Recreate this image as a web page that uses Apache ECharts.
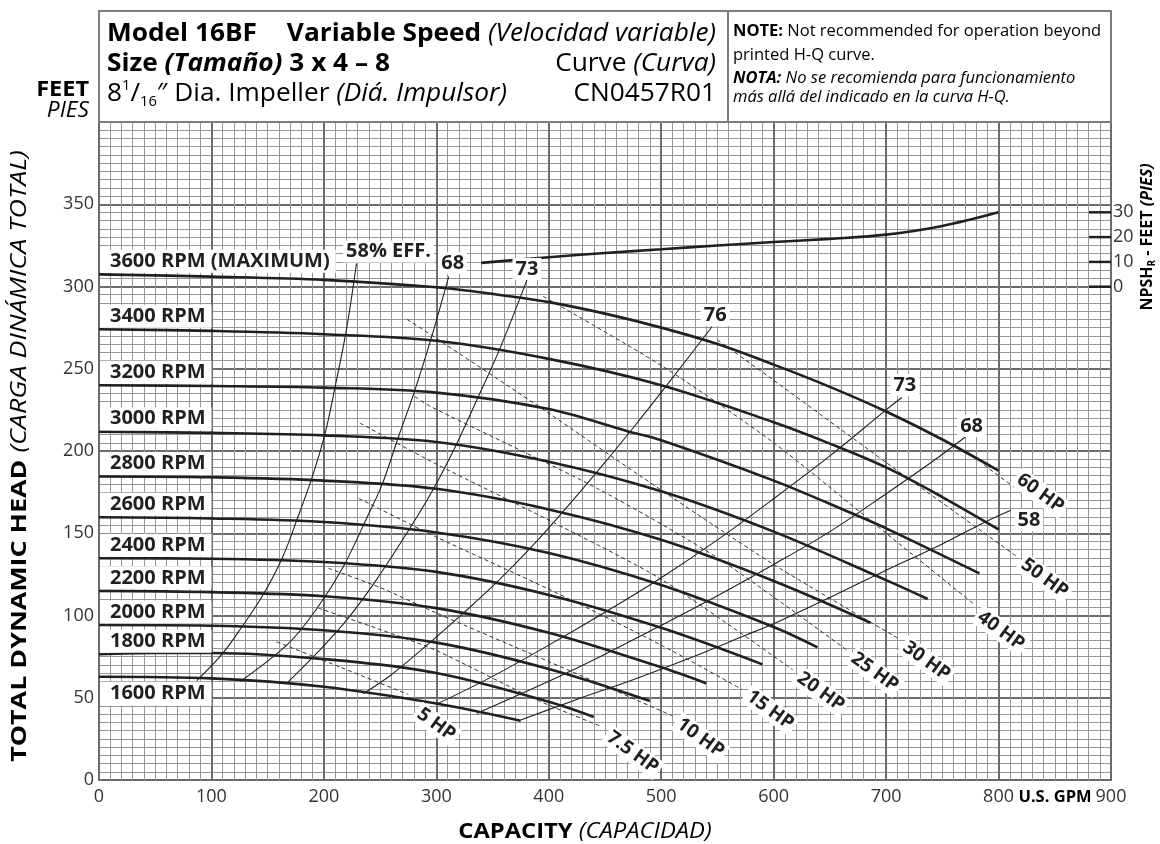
<!DOCTYPE html>
<html>
<head>
<meta charset="utf-8">
<script src="https://cdn.jsdelivr.net/npm/echarts@6/dist/echarts.min.js"></script>
<style>
  html, body { margin: 0; padding: 0; background: #fff; }
  #chart { width: 1160px; height: 844px; }
</style>
</head>
<body>
<div id="chart"></div>
<script>
// Head-capacity curves: [capacity US GPM, total dynamic head ft]
const rpm3600 = [[0,307.4],[100,306],[200,304],[300,299.5],[350,295.5],[400,290.5],[450,283.5],[500,275],[550,265],[600,252.5],[650,239],[700,224],[750,207],[800,188]];
const rpm3400 = [[0,274],[100,273],[200,271],[300,267],[400,256],[500,240],[600,217.5],[650,204.5],[700,190],[750,172],[800,152.3]];
const rpm3200 = [[0,240],[100,239.5],[200,238.5],[300,235.5],[400,225.5],[470,212],[500,206.5],[600,182],[670,162],[700,153],[783,125.6]];
const rpm3000 = [[0,211.7],[100,211],[200,209.5],[300,205.5],[400,193.5],[500,175.5],[600,151],[700,121.5],[737,110]];
const rpm2800 = [[0,184.5],[100,184],[200,182],[300,177],[400,164.5],[500,146],[600,121],[686,95.6]];
const rpm2600 = [[0,159.7],[100,159],[200,156.8],[300,150.5],[400,138],[500,118.5],[600,93],[639,80.6]];
const rpm2400 = [[0,134.8],[100,134.5],[200,132.5],[300,126.5],[400,112.5],[500,92.5],[590,70.3]];
const rpm2200 = [[0,115],[100,114.2],[200,111.7],[300,104.5],[400,89.5],[500,68.5],[540,58.8]];
const rpm2000 = [[0,94.2],[100,93.8],[200,91],[300,83.5],[400,67.5],[490,48]];
const rpm1800 = [[0,76.4],[50,77.2],[100,77.2],[200,73.5],[300,65],[400,47.5],[440,38.3]];
const rpm1600 = [[0,62.8],[100,61.8],[200,56.7],[300,46.5],[375,36]];

const speedNames = ['3600 RPM (MAXIMUM)','3400 RPM','3200 RPM','3000 RPM','2800 RPM','2600 RPM','2400 RPM','2200 RPM','2000 RPM','1800 RPM','1600 RPM'];
const speedCurves = [rpm3600, rpm3400, rpm3200, rpm3000, rpm2800, rpm2600, rpm2400, rpm2200, rpm2000, rpm1800, rpm1600];

// Iso-efficiency curves (left branch rises toward shut-off, right branch toward run-out)
const eff58a = [[87,60.4],[110,77],[127,93],[145,111.5],[163,135],[177,160],[190,185],[201,210.5],[210,239],[220,273.6],[229,314]];
const eff68a = [[125.5,59.8],[168.5,83],[195,105.5],[217.5,130],[240,162],[252,180],[266.5,209],[280,235],[295,267.5],[311,306]];
const eff73a = [[167,58.8],[195,78],[220,97],[245,120],[270,146],[295,174],[315,200],[336,231],[357,263],[380.6,304]];
const eff76  = [[235,52.5],[260,64],[295,84],[325,102],[355,121],[385,142],[415,165],[445,189],[475,214],[505,240],[545.3,275.7]];
const eff73b = [[300,46],[350,63],[400,82],[450,102],[500,123],[550,146],[600,171],[650,197],[700,225],[714,232.5]];
const eff68b = [[336,40.5],[400,60],[450,76.5],[500,94],[550,112],[600,131],[650,151],[700,174],[740,193],[770.7,208.7]];
const eff58b = [[375,36.5],[425,49],[475,61],[525,74],[575,88],[600,95],[650,111],[700,127.5],[750,143.5],[790,157.5],[811,164]];

const effNames = ['58% EFF.','68','73','76','73','68','58'];
const effCurves = [eff58a, eff68a, eff73a, eff76, eff73b, eff68b, eff58b];

// Brake horsepower lines
const hp5   = [[158,84],[215,68.5],[275,52]];
const hp7_5 = [[195,104.5],[250,91.5],[299,79],[390,48.5],[447,32.5]];
const hp10  = [[204,128.7],[250,117],[300,101.5],[400,72],[510,39]];
const hp15  = [[231,171.2],[299,148],[400,116],[500,82],[572,55]];
const hp20  = [[232,217],[299,192.4],[400,158],[500,122],[617,67]];
const hp25  = [[281,233],[295,227],[443,177.3],[550,135],[665,79]];
const hp30  = [[274,280],[300,268.5],[400,223],[481,185],[600,131],[711,86]];
const hp40  = [[395,294],[500,252],[600,205],[700,150],[778,107]];
const hp50  = [[550,267.5],[597,244.5],[700,193],[816,136]];
const hp60  = [[787,191.5],[814,178]];

const hpNames = ['5 HP','7.5 HP','10 HP','15 HP','20 HP','25 HP','30 HP','40 HP','50 HP','60 HP'];
const hpCurves = [hp5, hp7_5, hp10, hp15, hp20, hp25, hp30, hp40, hp50, hp60];

// Required NPSH, ft, and its scale marks
const npshR = [[340,9.6],[400,11.9],[450,13.6],[500,15.1],[550,16.6],[600,18],[650,19.3],[700,21],[750,24.5],[800,30]];
const npshTicks = [0, 10, 20, 30];

const FONT = '"Open Sans", "DejaVu Sans", sans-serif';
const INK = '#231f20';
const MINOR = '#969696';
const MAJOR = '#6c6c6c';

const chart = echarts.init(document.getElementById('chart'), null, { renderer: 'canvas' });

function curve(data, lineStyle, z, smooth) {
  return {
    type: 'line', data, xAxisIndex: 0, yAxisIndex: 0,
    symbol: 'none', showSymbol: false, smooth: smooth,
    lineStyle, z, silent: true, animation: false
  };
}

const series = [
  ...hpCurves.map(d => curve(d, { color: '#333', width: 1, type: [4, 3] }, 3, 0.25)),
  ...effCurves.map(d => curve(d, { color: INK, width: 1.1 }, 4, 0.35)),
  ...speedCurves.map(d => curve(d, { color: INK, width: 2.6 }, 5, 0.35)),
  {
    type: 'line', data: npshR, xAxisIndex: 1, yAxisIndex: 1,
    symbol: 'none', showSymbol: false, smooth: 0.35,
    lineStyle: { color: INK, width: 2.6 }, z: 5, silent: true, animation: false
  }
];

chart.setOption({
  animation: false,
  backgroundColor: '#fff',
  textStyle: { fontFamily: FONT },
  grid: [
    { left: 99, top: 122, width: 1012, height: 658, show: true, borderColor: MAJOR, borderWidth: 2, backgroundColor: '#fff' },
    { left: 99, top: 212.3, width: 1012, height: 74.4 }
  ],
  xAxis: [
    {
      gridIndex: 0, type: 'value', min: 0, max: 900, interval: 100,
      axisLine: { show: false }, axisTick: { show: false },
      axisLabel: { color: '#333', fontSize: 18, margin: 8, fontFamily: FONT },
      splitLine: { show: true, lineStyle: { color: MAJOR, width: 2 } },
      minorTick: { show: false, splitNumber: 10 },
      minorSplitLine: { show: true, lineStyle: { color: MINOR, width: 1 } }
    },
    { gridIndex: 1, type: 'value', min: 0, max: 900, show: false }
  ],
  yAxis: [
    {
      gridIndex: 0, type: 'value', min: 0, max: 400, interval: 50,
      axisLine: { show: false }, axisTick: { show: false },
      axisLabel: { color: '#333', fontSize: 18, margin: 5, showMaxLabel: false, fontFamily: FONT },
      splitLine: { show: true, lineStyle: { color: MAJOR, width: 2 } },
      minorTick: { show: false, splitNumber: 10 },
      minorSplitLine: { show: true, lineStyle: { color: MINOR, width: 1 } }
    },
    {
      gridIndex: 1, type: 'value', position: 'right', min: 0, max: 30, interval: 10,
      axisLine: { show: false }, axisTick: { show: false },
      axisLabel: { color: '#333', fontSize: 18, margin: 2, fontFamily: FONT },
      splitLine: { show: false }
    }
  ],
  series
});

const toPx = pt => chart.convertToPixel({ xAxisIndex: 0, yAxisIndex: 0 }, pt);

function tag(text, x, y, opt) {
  opt = opt || {};
  return {
    type: 'text', x, y, rotation: opt.rot || 0, z: 60, silent: true,
    style: {
      text, fill: INK,
      font: `bold ${opt.size || 20}px ${FONT}`,
      align: opt.align || 'center', verticalAlign: 'middle',
      backgroundColor: '#fff', padding: opt.pad || [1, 3]
    }
  };
}

const graphics = [];

// Speed labels sit on the shut-off end of each curve
speedCurves.forEach((d, i) => {
  const p = toPx(d[0]);
  const below = i === speedCurves.length - 1;
  graphics.push(tag(speedNames[i], p[0] + 1, p[1] + (below ? 17 : -13),
    { align: 'left', pad: below ? [1, 6, 3, 10] : [3, 6, 0, 10] }));
});

// Efficiency labels at the outer end of each iso-efficiency curve
const effOffsets = [[32, -12], [4, -13.5], [0, -11], [3, -11.5], [3, -12.5], [6, -10.7], [18, 10]];
effCurves.forEach((d, i) => {
  const p = toPx(d[d.length - 1]);
  graphics.push(tag(effNames[i], p[0] + effOffsets[i][0], p[1] + effOffsets[i][1], { pad: [1, 3] }));
});

// Horsepower labels follow the run-out end of each dashed line
const hpOffsets = [[28, 30], [31, 26], [28, 22], [28, 20.5], [28, 22], [28, 22], [28, 22.5], [27, 26.7], [28, 22], [26, 6]];
const tilt = -36 * Math.PI / 180;
hpCurves.forEach((d, i) => {
  const p = toPx(d[d.length - 1]);
  graphics.push(tag(hpNames[i], p[0] + hpOffsets[i][0], p[1] + hpOffsets[i][1], { rot: tilt, size: 19, pad: [1, 3] }));
});

// NPSH tick marks run inward from the right edge of the plot
const rightEdge = chart.convertToPixel({ xAxisIndex: 0 }, 900);
npshTicks.forEach(v => {
  const y = chart.convertToPixel({ yAxisIndex: 1 }, v);
  graphics.push({ type: 'line', z: 55, silent: true,
    shape: { x1: rightEdge - 22, y1: y, x2: rightEdge, y2: y },
    style: { stroke: INK, lineWidth: 2.5 } });
});

// Title block
const TS = 25;
const titleRich = {
  b:  { fontFamily: FONT, fontSize: TS, fontWeight: 'bold', color: INK, lineHeight: 30 },
  bi: { fontFamily: FONT, fontSize: TS, fontWeight: 'bold', fontStyle: 'italic', color: INK, lineHeight: 30 },
  r:  { fontFamily: FONT, fontSize: TS, color: INK, lineHeight: 30 },
  i:  { fontFamily: FONT, fontSize: TS, fontStyle: 'italic', color: INK, lineHeight: 30 },
  sup: { fontFamily: FONT, fontSize: 14, color: INK, lineHeight: 16, verticalAlign: 'top' },
  sub: { fontFamily: FONT, fontSize: 14, color: INK, lineHeight: 16, verticalAlign: 'bottom' }
};
const NS = 16.5;
const noteRich = {
  b:  { fontFamily: FONT, fontSize: NS, fontWeight: 'bold', color: INK },
  bi: { fontFamily: FONT, fontSize: NS, fontWeight: 'bold', fontStyle: 'italic', color: INK },
  r:  { fontFamily: FONT, fontSize: NS, color: INK },
  i:  { fontFamily: FONT, fontSize: NS, fontStyle: 'italic', color: INK }
};
function rich(text, x, y, align, styles, opt) {
  opt = opt || {};
  return {
    type: 'text', x, y, rotation: opt.rot || 0, scaleX: opt.sx || 1, z: 70, silent: true,
    style: { text, rich: styles, align, verticalAlign: 'middle' }
  };
}

graphics.push(
  { type: 'rect', z: 65, silent: true, shape: { x: 99, y: 11, width: 1012, height: 111 },
    style: { fill: '#fff', stroke: '#7d7d7d', lineWidth: 2 } },
  { type: 'line', z: 66, silent: true, shape: { x1: 728, y1: 11, x2: 728, y2: 122 },
    style: { stroke: '#7d7d7d', lineWidth: 2 } },
  rich('{b|Model 16BF}', 107, 34, 'left', titleRich, { sx: 1.05 }),
  rich('{b|Variable Speed }{i|(Velocidad variable)}', 716, 34, 'right', titleRich, { sx: 1.05 }),
  rich('{b|Size }{bi|(Tamaño)}{b| 3 x 4 – 8}', 107, 64, 'left', titleRich, { sx: 1.05 }),
  rich('{r|Curve }{i|(Curva)}', 716, 64, 'right', titleRich, { sx: 1.05 }),
  rich('{r|8}{sup|1}{r|/}{sub|16}{r|″ Dia. Impeller }{i|(Diá. Impulsor)}', 107, 94, 'left', titleRich, { sx: 1.05 }),
  rich('{r|CN0457R01}', 716, 94, 'right', titleRich, { sx: 1.05 }),
  rich('{b|NOTE:}{r| Not recommended for operation beyond}', 733, 31, 'left', noteRich),
  rich('{r|printed H-Q curve.}', 733, 55, 'left', noteRich),
  rich('{bi|NOTA:}{i| No se recomienda para funcionamiento}', 733, 78, 'left', noteRich),
  rich('{i|más allá del indicado en la curva H-Q.}', 733, 97, 'left', noteRich),
  // Units beside the head axis
  rich('{b|FEET}', 89, 90, 'right', { b: { fontFamily: FONT, fontSize: 21, fontWeight: 'bold', color: INK } }, { sx: 1.12 }),
  rich('{i|PIES}', 89, 111, 'right', { i: { fontFamily: FONT, fontSize: 21, fontStyle: 'italic', color: INK } }, { sx: 1.08 }),
  // Axis titles
  rich('{b|TOTAL DYNAMIC HEAD }{i|(CARGA DINÁMICA TOTAL)}', 20, 456, 'center', {
    b: { fontFamily: FONT, fontSize: 22, fontWeight: 'bold', color: INK },
    i: { fontFamily: FONT, fontSize: 22, fontStyle: 'italic', color: INK }
  }, { rot: Math.PI / 2, sx: 1.22 }),
  rich('{b|CAPACITY }{i|(CAPACIDAD)}', 585, 832, 'center', {
    b: { fontFamily: FONT, fontSize: 21, fontWeight: 'bold', color: INK },
    i: { fontFamily: FONT, fontSize: 21, fontStyle: 'italic', color: INK }
  }, { sx: 1.13 }),
  rich('{b|U.S. GPM}', 1055, 797, 'center', { b: { fontFamily: FONT, fontSize: 16.5, fontWeight: 'bold', color: INK } }),
  rich('{b|NPSH}{s|R}{b| - FEET }{bi|(PIES)}', 1147, 237, 'center', {
    b:  { fontFamily: FONT, fontSize: 16, fontWeight: 'bold', color: INK, lineHeight: 20 },
    bi: { fontFamily: FONT, fontSize: 16, fontWeight: 'bold', fontStyle: 'italic', color: INK, lineHeight: 20 },
    s:  { fontFamily: FONT, fontSize: 10, fontWeight: 'bold', color: INK, lineHeight: 10, verticalAlign: 'bottom' }
  }, { rot: Math.PI / 2 })
);

chart.setOption({ graphic: graphics });
</script>
</body>
</html>
